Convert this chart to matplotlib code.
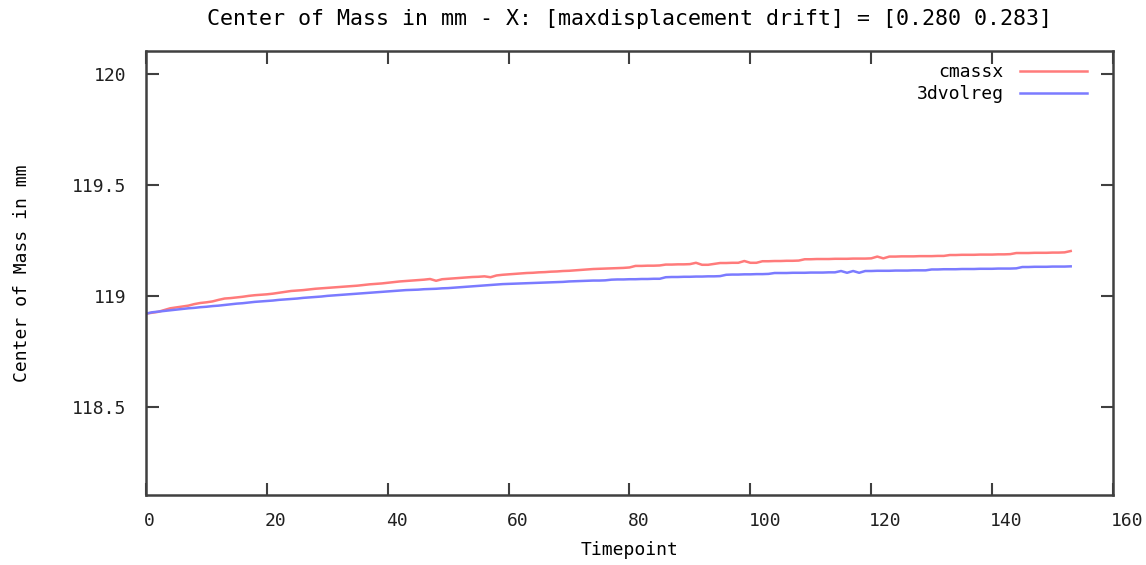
import numpy as np
import matplotlib
matplotlib.use("Agg")
import matplotlib.pyplot as plt
from matplotlib.transforms import ScaledTranslation

# center of mass (mm), one value per timepoint 0..153
cmassx = [
    118.922, 118.926, 118.930, 118.938, 118.946, 118.950, 118.954, 118.958, 118.965, 118.970,
    118.973, 118.977, 118.984, 118.990, 118.992, 118.995, 118.998, 119.002, 119.005, 119.007,
    119.009, 119.012, 119.016, 119.020, 119.024, 119.026, 119.028, 119.031, 119.034, 119.036,
    119.038, 119.040, 119.042, 119.044, 119.046, 119.048, 119.051, 119.054, 119.056, 119.058,
    119.061, 119.064, 119.067, 119.069, 119.071, 119.073, 119.075, 119.078, 119.070, 119.077,
    119.079, 119.081, 119.083, 119.085, 119.087, 119.088, 119.090, 119.086, 119.094, 119.097,
    119.099, 119.101, 119.103, 119.105, 119.106, 119.108, 119.109, 119.111, 119.112, 119.114,
    119.115, 119.117, 119.119, 119.121, 119.123, 119.124, 119.125, 119.126, 119.127, 119.128,
    119.130, 119.137, 119.137, 119.138, 119.138, 119.139, 119.143, 119.143, 119.144, 119.144,
    119.145, 119.151, 119.142, 119.142, 119.146, 119.150, 119.150, 119.151, 119.151, 119.159,
    119.151, 119.151, 119.158, 119.158, 119.159, 119.159, 119.160, 119.160, 119.161, 119.167,
    119.167, 119.168, 119.168, 119.168, 119.169, 119.169, 119.169, 119.170, 119.170, 119.170,
    119.171, 119.179, 119.171, 119.179, 119.179, 119.180, 119.180, 119.180, 119.181, 119.181,
    119.181, 119.182, 119.182, 119.186, 119.186, 119.187, 119.187, 119.187, 119.188, 119.188,
    119.188, 119.189, 119.189, 119.190, 119.195, 119.195, 119.195, 119.196, 119.196, 119.196,
    119.197, 119.197, 119.198, 119.204,
]

volreg = [
    118.922, 118.928, 118.931, 118.934, 118.937, 118.940, 118.943, 118.946, 118.948, 118.951,
    118.953, 118.956, 118.958, 118.961, 118.964, 118.967, 118.969, 118.972, 118.975, 118.977,
    118.979, 118.981, 118.984, 118.986, 118.988, 118.990, 118.993, 118.995, 118.997, 118.999,
    119.002, 119.004, 119.006, 119.008, 119.010, 119.012, 119.014, 119.016, 119.018, 119.020,
    119.022, 119.024, 119.026, 119.028, 119.029, 119.030, 119.032, 119.033, 119.034, 119.036,
    119.037, 119.039, 119.041, 119.043, 119.045, 119.047, 119.049, 119.051, 119.053, 119.055,
    119.056, 119.057, 119.058, 119.059, 119.060, 119.061, 119.062, 119.063, 119.064, 119.065,
    119.067, 119.068, 119.069, 119.070, 119.071, 119.071, 119.072, 119.075, 119.076, 119.076,
    119.077, 119.077, 119.078, 119.078, 119.079, 119.079, 119.086, 119.087, 119.087, 119.088,
    119.088, 119.089, 119.089, 119.090, 119.090, 119.091, 119.097, 119.098, 119.098, 119.099,
    119.099, 119.100, 119.100, 119.101, 119.105, 119.105, 119.105, 119.106, 119.106, 119.106,
    119.107, 119.107, 119.107, 119.108, 119.108, 119.114, 119.106, 119.114, 119.106, 119.114,
    119.114, 119.115, 119.115, 119.115, 119.116, 119.116, 119.116, 119.117, 119.117, 119.117,
    119.121, 119.121, 119.122, 119.122, 119.122, 119.123, 119.123, 119.123, 119.124, 119.124,
    119.124, 119.125, 119.125, 119.125, 119.126, 119.132, 119.132, 119.133, 119.133, 119.133,
    119.134, 119.134, 119.134, 119.135,
]

timepoints = np.arange(len(cmassx))
xticks = [0, 20, 40, 60, 80, 100, 120, 140, 160]
yticks = [118.5, 119, 119.5, 120]
yticklabels = ["118.5", "119", "119.5", "120"]

plt.rcParams['font.family'] = ['DejaVu Sans Mono']
plt.rcParams['font.size'] = 13

fig = plt.figure(figsize=(11.46, 5.65), dpi=100)
ax = fig.add_axes([0.1274, 0.1239, 0.9712 - 0.1274, 0.9097 - 0.1239])

ax.plot(timepoints, cmassx, color='#ff7b7b', lw=1.8, label='cmassx')
ax.plot(timepoints, volreg, color='#7b7bff', lw=1.8, label='3dvolreg')

ax.set_xlim(0, 160)
ax.set_ylim(118.105, 120.105)
ax.set_xticks(xticks)
ax.set_yticks(yticks)
ax.set_yticklabels(yticklabels)
ax.tick_params(direction='in', length=9, width=1.5, color='#404040',
               top=True, right=True, labelcolor='#202020')
ax.tick_params(axis='x', pad=12)
ax.tick_params(axis='y', pad=14)
# gnuplot puts the x labels slightly right of their ticks
shift = ScaledTranslation(-2 / 100, 0, fig.dpi_scale_trans)
for lab in ax.get_xticklabels():
    lab.set_horizontalalignment('left')
    lab.set_transform(lab.get_transform() + shift)

for s in ax.spines.values():
    s.set_color('#404040')
    s.set_linewidth(1.8)

ax.set_title('Center of Mass in mm - X: [maxdisplacement drift] = [0.280 0.283]',
             pad=19)
ax.set_xlabel('Timepoint', labelpad=8)
ax.set_ylabel('Center of Mass in mm', labelpad=30)

ax.legend(loc='upper right', frameon=False, markerfirst=False, handlelength=3.7,
          handletextpad=0.9, borderaxespad=0.4, labelspacing=0.2,
          bbox_to_anchor=(0.9876, 1.0045))

fig.savefig('out.png', dpi=100)
